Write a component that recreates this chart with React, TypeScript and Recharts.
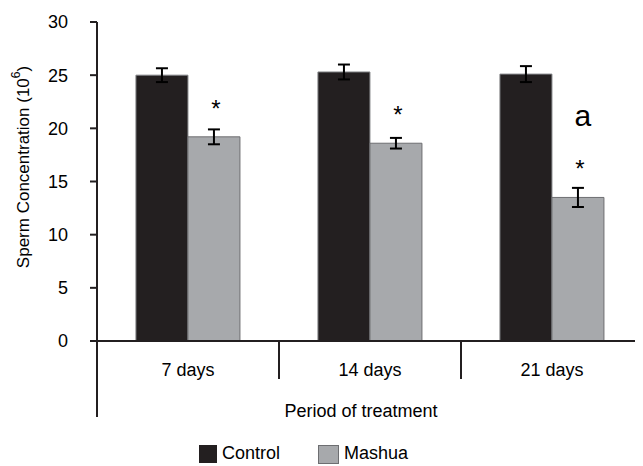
import React from "react";
import { BarChart, Bar, XAxis, YAxis, ErrorBar, Legend, LabelList, Label } from "recharts";

const categories = ["7 days", "14 days", "21 days"];
const controlValues = [25.0, 25.3, 25.1];
const controlErrors = [0.65, 0.7, 0.75];
const mashuaValues = [19.2, 18.6, 13.5];
const mashuaErrors = [0.7, 0.5, 0.9];
const mashuaStars = ["*", "*", "*"];
const mashuaLetters = ["", "", "a"];
const yTicks = [0, 5, 10, 15, 20, 25, 30];

const data = categories.map((c, i) => ({
  name: c,
  control: controlValues[i],
  controlErr: controlErrors[i],
  mashua: mashuaValues[i],
  mashuaErr: mashuaErrors[i],
  star: mashuaStars[i],
  letter: mashuaLetters[i],
}));

const FONT = "'Liberation Sans', Arial, sans-serif";
const DARK = "#231f20";
const GREY = "#a7a9ac";

const XTick = (props: any) => {
  const { x, y, payload, index } = props;
  const half = payload.offset || 91;
  return (
    <g>
      <text x={x} y={y + 27} textAnchor="middle" fontFamily={FONT} fontSize={18} fill="#000">
        {payload.value}
      </text>
      {index < categories.length - 1 && (
        <line x1={x + half} x2={x + half} y1={y - 8} y2={y + 30} stroke={DARK} strokeWidth={2} />
      )}
      {index === 0 && (
        <line x1={x - half} x2={x - half} y1={y - 8} y2={y + 68} stroke={DARK} strokeWidth={2} />
      )}
    </g>
  );
};

const YLabel = () => {
  const cx = 15;
  const cy = 159;
  return (
    <text
      x={cx}
      y={cy}
      transform={`rotate(-90, ${cx}, ${cy})`}
      textAnchor="middle"
      dominantBaseline="central"
      fontFamily={FONT}
      fontSize={17}
      fill="#000"
    >
      Sperm Concentration (10
      <tspan fontSize={12} dy={-7}>6</tspan>
      <tspan dy={7}>)</tspan>
    </text>
  );
};

const XLabel = (props: any) => {
  const { viewBox } = props;
  return (
    <text
      x={viewBox.x + viewBox.width / 2 - 9}
      y={409}
      textAnchor="middle"
      fontFamily={FONT}
      fontSize={18}
      fill="#000"
    >
      Period of treatment
    </text>
  );
};

const StarLabel = (props: any) => {
  const { x, y, width, value } = props;
  if (!value) return null;
  return (
    <text x={x + width / 2 + 2} y={y - 20} textAnchor="middle" fontFamily={FONT} fontSize={24} fill="#000">
      {value}
    </text>
  );
};

const LetterLabel = (props: any) => {
  const { x, y, width, value } = props;
  if (!value) return null;
  return (
    <text x={x + width / 2 + 5} y={y - 71} textAnchor="middle" fontFamily={FONT} fontSize={30} fill="#000">
      {value}
    </text>
  );
};

const LegendContent = () => (
  <div style={{ position: "relative", height: 24, fontFamily: FONT, fontSize: 18, color: "#000" }}>
    <div style={{ position: "absolute", left: 191, top: 3, width: 18, height: 18, background: DARK }} />
    <div style={{ position: "absolute", left: 214, top: 1, lineHeight: "20px" }}>Control</div>
    <div
      style={{
        position: "absolute",
        left: 310,
        top: 3,
        width: 19,
        height: 17,
        background: GREY,
        border: "1px solid #6d6e71",
      }}
    />
    <div style={{ position: "absolute", left: 336, top: 1, lineHeight: "20px" }}>Mashua</div>
  </div>
);

export default function App() {
  return (
    <BarChart
      width={635}
      height={458}
      data={data}
      margin={{ top: 14, right: 0, bottom: 0, left: 0 }}
      barCategoryGap="21.4%"
      barGap={0}
    >
      <XAxis
        dataKey="name"
        height={101}
        axisLine={{ stroke: DARK, strokeWidth: 2 }}
        tickLine={false}
        tick={<XTick />}
        interval={0}
      >
        <Label content={<XLabel />} />
      </XAxis>
      <YAxis
        width={89}
        domain={[0, 30]}
        ticks={yTicks}
        interval={0}
        axisLine={{ stroke: DARK, strokeWidth: 2 }}
        tickLine={{ stroke: DARK, strokeWidth: 2 }}
        tickSize={7}
        tickMargin={22}
        tick={{ fontFamily: FONT, fontSize: 18, fill: "#000" }}
      >
        <Label content={<YLabel />} />
      </YAxis>
      <Legend verticalAlign="bottom" height={24} content={<LegendContent />} />
      <Bar dataKey="control" fill={DARK} stroke="#808285" strokeWidth={1} isAnimationActive={false}>
        <ErrorBar dataKey="controlErr" width={6} stroke="#000" strokeWidth={2} />
      </Bar>
      <Bar dataKey="mashua" fill={GREY} stroke="#6d6e71" strokeWidth={1} isAnimationActive={false}>
        <ErrorBar dataKey="mashuaErr" width={6} stroke="#000" strokeWidth={2} />
        <LabelList dataKey="star" content={<StarLabel />} />
        <LabelList dataKey="letter" content={<LetterLabel />} />
      </Bar>
    </BarChart>
  );
}
